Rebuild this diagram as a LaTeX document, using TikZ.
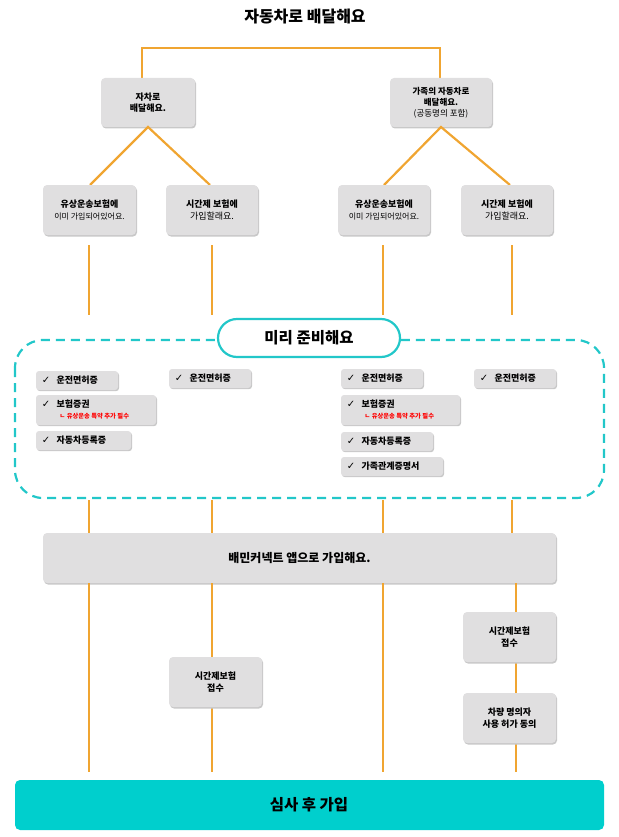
\documentclass[tikz,border=0pt]{standalone}
\usepackage{fontspec}
\setmainfont{Noto Sans CJK KR}
\newfontfamily\djfont{DejaVu Sans}
\begin{document}
\begin{tikzpicture}[x=1pt,y=-1pt,
  ln/.style={draw=orng,line width=2.2pt},
  lbl/.style={align=center,font=\fontsize{9}{11.5}\selectfont\bfseries},
  ct/.style={anchor=west,font=\fontsize{9}{10}\selectfont\bfseries}]
\definecolor{orng}{HTML}{F0A531}
\definecolor{teal}{HTML}{22C7C9}
\definecolor{tealf}{HTML}{00CFCD}
\definecolor{gboxc}{HTML}{E0DFE0}
\definecolor{shc}{HTML}{C8C8C8}
\useasboundingbox (0,0) rectangle (618,837);
\newcommand\gb[5]{% name x1 y1 x2 y2
 \fill[shc,rounded corners=4pt] (#2+1,#3+1.5) rectangle (#4+1,#5+1.5);
 \fill[gboxc,rounded corners=4pt] (#2,#3) rectangle (#4,#5);
 \coordinate (#1) at ({(#2+#4)/2},{(#3+#5)/2});}
\node[font=\fontsize{16}{18}\selectfont\bfseries] (title) at (305,17) {자동차로 배달해요};
% top bracket
\coordinate (bl) at (142,78); \coordinate (br) at (440,78);
\draw[ln] (bl) -- (142,48) -- (440,48) -- (br);
\gb{A}{101}{78}{195}{127}
\gb{B}{390}{78}{492}{127}
\node[lbl] at (A) {자차로\\배달해요.};
\node[lbl,font=\fontsize{8.5}{11}\selectfont\bfseries] at (B) {가족의 자동차로\\배달해요.\\{\mdseries (공동명의 포함)}};
\coordinate (Ab) at (148,127); \coordinate (Bb) at (441,127);
\coordinate (c1t) at (90,185); \coordinate (c2t) at (210,185);
\coordinate (c3t) at (384,185); \coordinate (c4t) at (510,185);
\draw[ln] (c1t) -- (Ab) -- (c2t); \draw[ln] (c3t) -- (Bb) -- (c4t);
\gb{C1}{43}{185}{136}{235}
\gb{C2}{166}{185}{258}{235}
\gb{C3}{338}{185}{430}{235}
\gb{C4}{461}{185}{553}{235}
\node[lbl] at (C1) {유상운송보험에\\{\mdseries\fontsize{8}{10}\selectfont 이미 가입되어있어요.}};
\node[lbl] at (C2) {시간제 보험에\\{\mdseries 가입할래요.}};
\node[lbl] at (C3) {유상운송보험에\\{\mdseries\fontsize{8}{10}\selectfont 이미 가입되어있어요.}};
\node[lbl] at (C4) {시간제 보험에\\{\mdseries 가입할래요.}};
% verticals upper
\foreach \x in {89,212,383,512}{\draw[ln] (\x,245) -- (\x,315); \draw[ln] (\x,500) -- (\x,533);}
% dashed region
\draw[teal,line width=2.2pt,dash pattern=on 9pt off 6pt,rounded corners=28pt] (15,340) rectangle (604,498);
\node[draw=teal,line width=2.2pt,fill=white,rounded corners=19pt,minimum width=182pt,minimum height=38pt,font=\fontsize{15.5}{17}\selectfont\bfseries] (prep) at (309,338) {미리 준비해요};
% check items
\newcommand\ck[6]{% x1 y1 x2 y2 text sub
 \fill[shc,rounded corners=3pt] (#1+1,#2+1.2) rectangle (#3+1,#4+1.2);
 \fill[gboxc,rounded corners=3pt] (#1,#2) rectangle (#3,#4);
 \node[font=\djfont\fontsize{10}{10}\selectfont\bfseries] at (#1+10,#2+9) {✓};
 \node[ct] at (#1+17,#2+9.5) {#5};
 \node[anchor=west,text=red,font=\fontsize{6.3}{7}\selectfont\bfseries] at (#1+20,#2+21) {#6};}
\ck{36}{371}{118}{390}{운전면허증}{}
\ck{169}{369}{251}{388}{운전면허증}{}
\ck{36}{395}{156}{425}{보험증권}{ㄴ 유상운송 특약 추가 필수}
\ck{36}{431}{131}{450}{자동차등록증}{}
\ck{341}{369}{423}{388}{운전면허증}{}
\ck{474}{369}{556}{388}{운전면허증}{}
\ck{341}{395}{460}{425}{보험증권}{ㄴ 유상운송 특약 추가 필수}
\ck{341}{432}{433}{451}{자동차등록증}{}
\ck{341}{457}{443}{476}{가족관계증명서}{}
% big box
\gb{D}{43}{533}{556}{583}
\node[font=\fontsize{12}{14}\selectfont\bfseries] at (D) {배민커넥트 앱으로 가입해요.};
\draw[ln] (89,583) -- (89,772); \draw[ln] (383,583) -- (383,772);
\draw[ln] (212,583) -- (212,657); \draw[ln] (212,707) -- (212,772);
\draw[ln] (516,583) -- (516,612); \draw[ln] (516,662) -- (516,693); \draw[ln] (516,743) -- (516,772);
\gb{E}{169}{657}{262}{707}
\gb{F}{463}{612}{556}{662}
\gb{G}{463}{693}{556}{743}
\node[lbl] at (E) {시간제보험\\접수};
\node[lbl] at (F) {시간제보험\\접수};
\node[lbl] at (G) {차량 명의자\\사용 허가 동의};
\fill[tealf,rounded corners=5pt] (15,780) rectangle (604,830);
\node[font=\fontsize{15.5}{17}\selectfont\bfseries] (H) at (309,805) {심사 후 가입};
\end{tikzpicture}
\end{document}
